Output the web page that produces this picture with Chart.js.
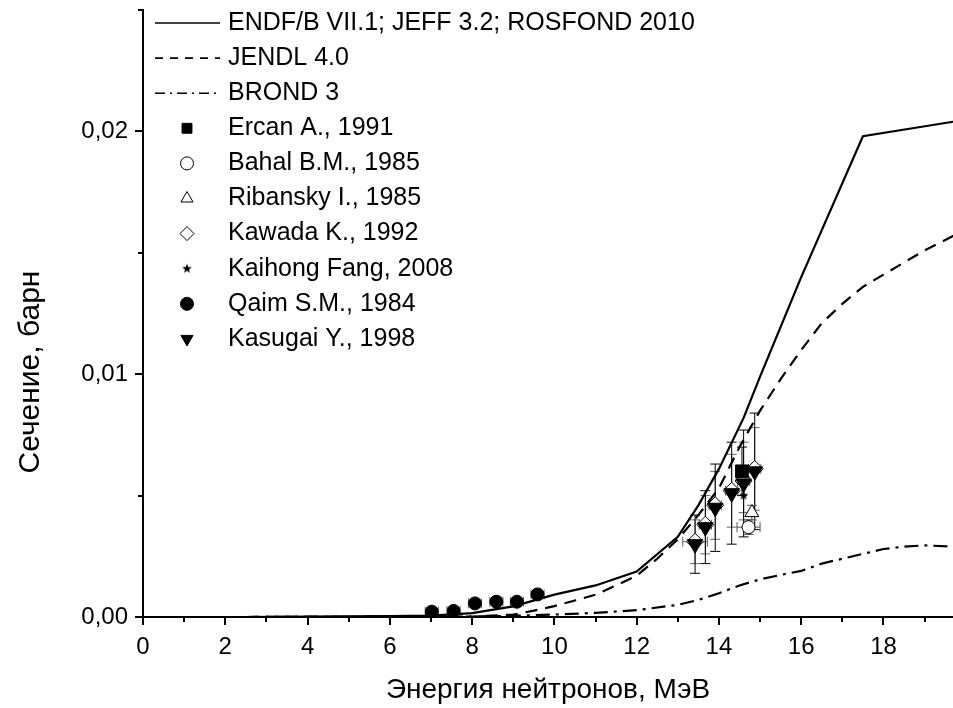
<!DOCTYPE html>
<html>
<head>
<meta charset="utf-8">
<script src="https://cdn.jsdelivr.net/npm/chart.js@4.4.1/dist/chart.umd.min.js"></script>
<style>
    html, body { margin: 0; padding: 0; background: #fff; }
    #chart { display: block; }
</style>
</head>
<body>
<canvas id="chart" width="953" height="708"></canvas>
<script>
// evaluated data: energy (MeV) / cross-section (barn)
const endfE = [2.5, 4, 6, 7, 8, 9, 10, 11, 12, 13, 13.5, 14, 14.6, 15, 16, 17.5, 19.7];
const endfXS = [0, 0.00002, 0.00004, 0.00006, 0.00016, 0.00044, 0.00092, 0.0013, 0.00187, 0.0033, 0.0046, 0.0061, 0.0082, 0.0099, 0.0140, 0.0198, 0.0204];

const jendlE = [2.5, 8, 9, 9.5, 10, 10.5, 11, 11.5, 12, 12.5, 13, 13.5, 14, 14.5, 15, 15.5, 16, 16.5, 17, 17.5, 18, 18.5, 19, 19.7];
const jendlXS = [0, 0.00002, 0.0001, 0.00026, 0.00045, 0.00068, 0.00092, 0.0013, 0.0017, 0.0024, 0.0032, 0.0042, 0.0053, 0.0070, 0.0085, 0.0098, 0.0110, 0.0121, 0.0129, 0.0136, 0.0141, 0.0146, 0.0151, 0.0157];

const brondE = [2.5, 8, 9, 10, 11, 12, 13, 13.5, 14, 14.5, 15, 15.5, 16, 16.5, 17, 17.5, 18, 18.5, 19, 19.7];
const brondXS = [0, 0.00002, 0.00005, 0.0001, 0.00017, 0.00028, 0.0005, 0.0007, 0.00098, 0.0013, 0.00155, 0.00173, 0.0019, 0.0022, 0.0024, 0.0026, 0.0028, 0.0029, 0.00295, 0.0029];

// experimental data
const ercanE = [14.56];
const ercanXS = [0.0060];
const ercanErr = [0.0010];

const bahalE = [14.72];
const bahalXS = [0.0037];
const bahalErr = [0.0003];
const bahalErrE = [0.28];

const ribanskyE = [14.8];
const ribanskyXS = [0.0043];
const ribanskyErr = [0.0003];

const kawadaE = [13.42, 13.67, 13.91, 14.31, 14.6, 14.87];
const kawadaXS = [0.0031, 0.0038, 0.0046, 0.0052, 0.0056, 0.0061];
const kawadaErr = [0.0009, 0.0012, 0.0014, 0.0015, 0.0016, 0.0017];
const kawadaErrE = [0.3, 0.15, 0.15, 0.15, 0.15, 0.15];

const fangE = [14.6];
const fangXS = [0.0050];
const fangErr = [0.0007];

const qaimE = [7.02, 7.55, 8.07, 8.59, 9.09, 9.59];
const qaimXS = [0.00022, 0.00025, 0.00056, 0.00063, 0.00063, 0.00093];
const qaimErrE = [0.16, 0.16, 0.16, 0.16, 0.16, 0.16];

const kasugaiE = [13.42, 13.67, 13.91, 14.31, 14.6, 14.87];
const kasugaiXS = [0.0030, 0.0037, 0.0045, 0.0051, 0.0055, 0.0060];
const kasugaiErr = [0.0012, 0.0015, 0.0018, 0.0021, 0.0022, 0.0024];

// axes
const xTicks = [0, 2, 4, 6, 8, 10, 12, 14, 16, 18];
const yTicks = [0, 0.01, 0.02];
const yTickLabels = ['0,00', '0,01', '0,02'];
const xTitle = 'Энергия нейтронов, МэВ';
const yTitle = 'Сечение, барн';

const FONT = '"Liberation Sans", Arial, sans-serif';

function pts(xs, ys) {
    return xs.map((v, i) => ({x: v, y: ys[i]}));
}

function makeStar(r) {
    const c = document.createElement('canvas');
    const s = Math.ceil(r * 2 + 2);
    c.width = s;
    c.height = s;
    const g = c.getContext('2d');
    g.fillStyle = '#000';
    g.beginPath();
    for (let i = 0; i < 10; i++) {
        const rad = i % 2 ? r * 0.42 : r;
        const a = -Math.PI / 2 + i * Math.PI / 5;
        g.lineTo(s / 2 + rad * Math.cos(a), s / 2 + rad * Math.sin(a));
    }
    g.closePath();
    g.fill();
    return c;
}
const star = makeStar(5);

function lineSet(label, xs, ys, dash, legendDash) {
    return {
        label: label,
        data: pts(xs, ys),
        showLine: true,
        borderColor: '#000',
        borderWidth: 2.2,
        borderDash: dash,
        legendDash: legendDash,
        pointRadius: 0,
        tension: 0
    };
}

function markSet(label, xs, ys, style, extra) {
    return Object.assign({
        label: label,
        data: pts(xs, ys),
        showLine: false,
        pointStyle: style,
        pointRadius: 6,
        pointBackgroundColor: '#000',
        pointBorderColor: '#000',
        pointBorderWidth: 1
    }, extra);
}

const datasets = [
    lineSet('ENDF/B VII.1; JEFF 3.2; ROSFOND 2010', endfE, endfXS, [], []),
    lineSet('JENDL 4.0', jendlE, jendlXS, [12, 8], [8, 7]),
    lineSet('BROND 3', brondE, brondXS, [14, 6, 3, 6], [10, 5, 2, 5]),
    markSet('Ercan A., 1991', ercanE, ercanXS, 'rect', {pointRadius: 9, errY: ercanErr}),
    markSet('Bahal B.M., 1985', bahalE, bahalXS, 'circle', {pointRadius: 6.5, pointBackgroundColor: '#fff', errY: bahalErr, errX: bahalErrE, errColor: '#555'}),
    markSet('Ribansky I., 1985', ribanskyE, ribanskyXS, 'triangle', {pointRadius: 8, pointBackgroundColor: '#fff', errY: ribanskyErr, errColor: '#555'}),
    markSet('Kasugai Y., 1998', kasugaiE, kasugaiXS, 'triangle', {pointRadius: 9, pointRotation: 180, errY: kasugaiErr}),
    markSet('Kawada K., 1992', kawadaE, kawadaXS, 'rectRot', {pointRadius: 8.5, pointBackgroundColor: '#fff', errY: kawadaErr, errX: kawadaErrE, errColor: '#666'}),
    markSet('Kaihong Fang, 2008', fangE, fangXS, star, {errY: fangErr, errColor: '#666'}),
    markSet('Qaim S.M., 1984', qaimE, qaimXS, 'circle', {pointRadius: 6.5, errX: qaimErrE, errColor: '#666'})
];

// legend order as in the picture
const legendOrder = [
    'ENDF/B VII.1; JEFF 3.2; ROSFOND 2010', 'JENDL 4.0', 'BROND 3', 'Ercan A., 1991',
    'Bahal B.M., 1985', 'Ribansky I., 1985', 'Kawada K., 1992', 'Kaihong Fang, 2008',
    'Qaim S.M., 1984', 'Kasugai Y., 1998'
];

const errorBars = {
    id: 'errorBars',
    beforeDatasetsDraw(chart) {
        const {ctx, scales: {x, y}} = chart;
        ctx.save();
        ctx.lineWidth = 1;
        // back dataset first
        for (let d = chart.data.datasets.length - 1; d >= 0; d--) {
            const ds = chart.data.datasets[d];
            if (!ds.errY && !ds.errX) continue;
            ctx.strokeStyle = ds.errColor || '#000';
            ds.data.forEach((p, i) => {
                const px = x.getPixelForValue(p.x);
                const py = y.getPixelForValue(p.y);
                ctx.beginPath();
                if (ds.errY) {
                    const y1 = y.getPixelForValue(p.y + ds.errY[i]);
                    const y2 = y.getPixelForValue(p.y - ds.errY[i]);
                    ctx.moveTo(px, y1); ctx.lineTo(px, y2);
                    ctx.moveTo(px - 5, y1); ctx.lineTo(px + 5, y1);
                    ctx.moveTo(px - 5, y2); ctx.lineTo(px + 5, y2);
                }
                if (ds.errX) {
                    const x1 = x.getPixelForValue(p.x - ds.errX[i]);
                    const x2 = x.getPixelForValue(p.x + ds.errX[i]);
                    ctx.moveTo(x1, py); ctx.lineTo(x2, py);
                    ctx.moveTo(x1, py - 5); ctx.lineTo(x1, py + 5);
                    ctx.moveTo(x2, py - 5); ctx.lineTo(x2, py + 5);
                }
                ctx.stroke();
            });
        }
        ctx.restore();
    }
};

const axisDecor = {
    id: 'axisDecor',
    afterDraw(chart) {
        const {ctx, chartArea: area, scales: {x, y}} = chart;
        ctx.save();
        ctx.strokeStyle = '#000';
        ctx.lineWidth = 2;
        ctx.beginPath();
        for (let v = 0; v <= x.max + 1e-9; v += 1) {
            const px = Math.round(x.getPixelForValue(v));
            const len = v % 2 === 0 ? 8 : 5;
            ctx.moveTo(px, area.bottom);
            ctx.lineTo(px, area.bottom + len);
        }
        for (let k = 0; k <= 5; k++) {
            const py = Math.round(y.getPixelForValue(k * 0.005));
            const len = k % 2 === 0 ? 8 : 5;
            ctx.moveTo(area.left, py);
            ctx.lineTo(area.left - len, py);
        }
        ctx.stroke();

        // axis titles
        ctx.fillStyle = '#000';
        ctx.font = '28px ' + FONT;
        ctx.textAlign = 'center';
        ctx.textBaseline = 'middle';
        ctx.fillText(xTitle, (area.left + area.right) / 2, 690);
        ctx.font = '30px ' + FONT;
        ctx.translate(31, 372);
        ctx.rotate(-Math.PI / 2);
        ctx.fillText(yTitle, 0, 0);
        ctx.restore();

        // legend
        ctx.save();
        ctx.font = '25px ' + FONT;
        ctx.textBaseline = 'middle';
        ctx.textAlign = 'left';
        ctx.fillStyle = '#000';
        legendOrder.forEach((name, row) => {
            const ds = chart.data.datasets.find(d => d.label === name);
            const cy = 23 + row * 35.1;
            if (ds.showLine) {
                ctx.save();
                ctx.lineWidth = 1.6;
                ctx.strokeStyle = '#000';
                ctx.setLineDash(ds.legendDash);
                ctx.beginPath();
                ctx.moveTo(155, cy);
                ctx.lineTo(220, cy);
                ctx.stroke();
                ctx.restore();
            } else {
                ctx.save();
                ctx.fillStyle = ds.pointBackgroundColor;
                ctx.strokeStyle = ds.pointBorderColor;
                ctx.lineWidth = 1;
                Chart.helpers.drawPoint(ctx, {
                    pointStyle: ds.pointStyle,
                    radius: Math.min(ds.pointRadius, 7),
                    rotation: ds.pointRotation || 0,
                    borderWidth: 1
                }, 187, cy);
                ctx.restore();
            }
            ctx.fillText(name, 228, cy);
        });
        ctx.restore();
    }
};

function noPad(s) {
    s.paddingTop = 0;
    s.paddingBottom = 0;
    s.paddingLeft = 0;
    s.paddingRight = 0;
}

new Chart(document.getElementById('chart'), {
    type: 'scatter',
    data: {datasets: datasets},
    options: {
        responsive: false,
        animation: false,
        devicePixelRatio: 1,
        events: [],
        layout: {autoPadding: false, padding: {top: 10, right: 0, left: 0, bottom: 0}},
        plugins: {
            legend: {display: false},
            tooltip: {enabled: false}
        },
        scales: {
            x: {
                type: 'linear',
                min: 0,
                max: 19.69,
                grid: {display: false},
                border: {display: true, color: '#000', width: 2},
                ticks: {
                    color: '#000',
                    font: {family: FONT, size: 24},
                    padding: 8,
                    maxRotation: 0
                },
                afterBuildTicks: (s) => { s.ticks = xTicks.map(v => ({value: v})); },
                afterFit: (s) => { s.height = 91; noPad(s); }
            },
            y: {
                type: 'linear',
                min: 0,
                max: 0.025,
                grid: {display: false},
                border: {display: true, color: '#000', width: 2},
                ticks: {
                    color: '#000',
                    font: {family: FONT, size: 24},
                    padding: 7,
                    callback: (v, i) => yTickLabels[i]
                },
                afterBuildTicks: (s) => { s.ticks = yTicks.map(v => ({value: v})); },
                afterFit: (s) => { s.width = 143; noPad(s); }
            }
        }
    },
    plugins: [errorBars, axisDecor]
});
</script>
</body>
</html>
